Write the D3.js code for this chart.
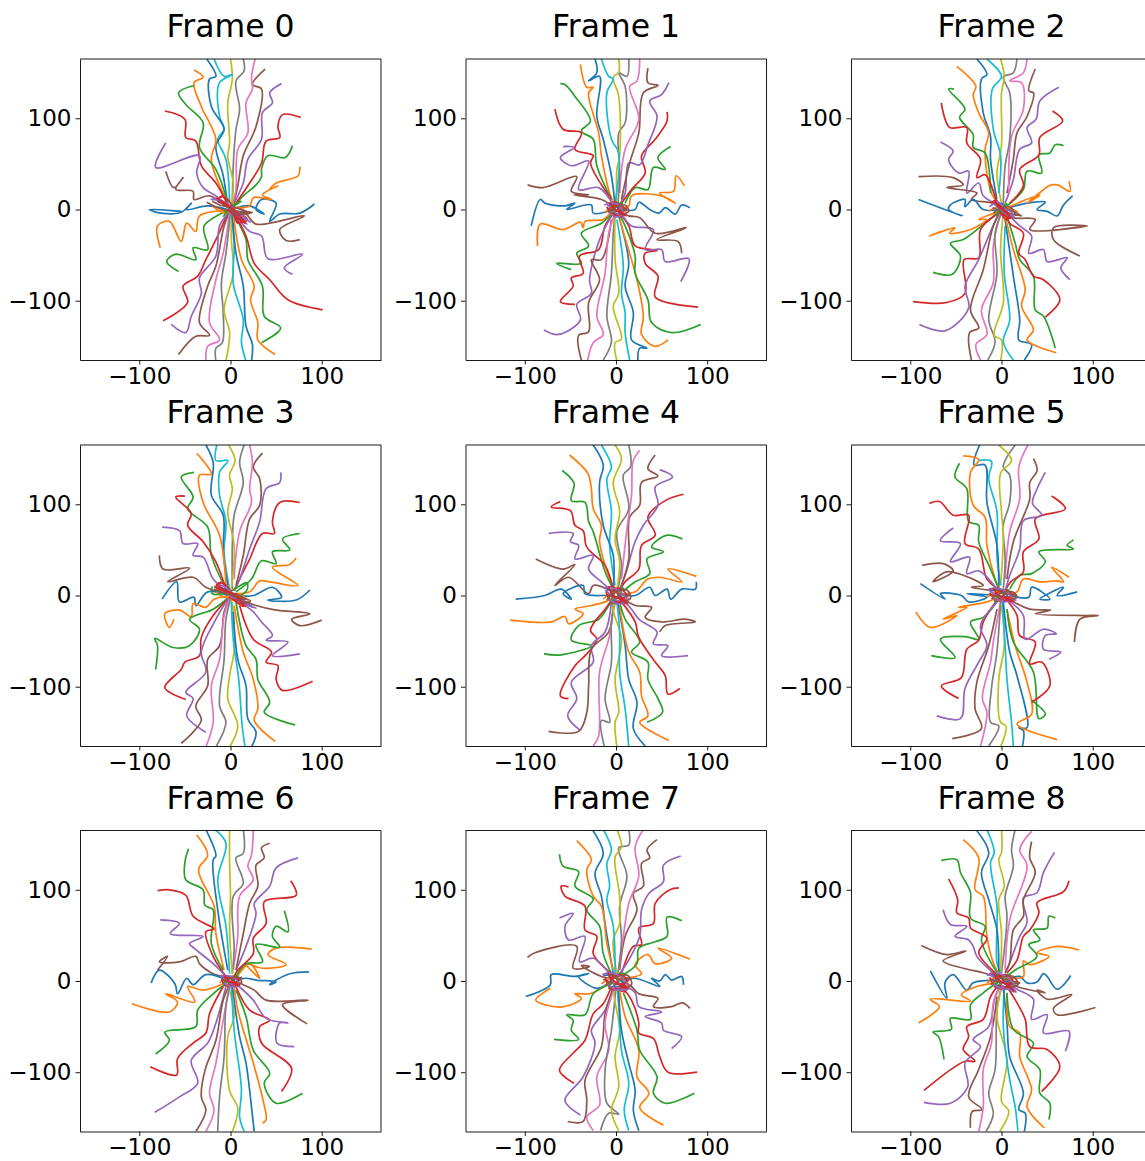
<!DOCTYPE html>
<html><head><meta charset="utf-8">
<script src="https://cdn.jsdelivr.net/npm/d3@7"></script>
<style>html,body{margin:0;padding:0;background:#fff;overflow:hidden}svg{display:block}</style>
</head><body><svg id="c" width="1145" height="1161"></svg>
<script>
const tab10=["#1f77b4","#ff7f0e","#2ca02c","#d62728","#9467bd","#8c564b","#e377c2","#7f7f7f","#bcbd22","#17becf"];
const titles=["Frame 0","Frame 1","Frame 2","Frame 3","Frame 4","Frame 5","Frame 6","Frame 7","Frame 8"];
const tickValues=[-100,0,100];
const limit=165;
const lineColors=[0,1,2,3,4,5,6,7,8,9,0,1,2,3,4,5,0,1,2,3,4,5,6,7,8,9,0,1,2,3,4,5];
const coreColors=[0,1,2,3,4,5,3,4,5,3];

const frame0=[
[92,6,76,-4,54,-5,43,-13,50,7,34,11,28,0,37,-5,21,4,4,1],
[76,47,74,37,50,29,43,22,52,26,35,16,45,11,25,13,21,4,6,2],
[68,70,60,57,41,59,34,44,34,36,28,27,14,15,4,4],
[77,101,57,104,52,91,54,79,39,75,34,51,21,29,6,7],
[56,138,43,128,46,117,35,106,34,77,19,55,14,29,4,7],
[38,154,24,137,34,132,28,91,14,59,8,26,3,4],
[27,165,23,145,24,132,17,117,19,84,8,66,6,22,2,4],
[14,165,15,152,6,141,10,110,6,88,3,48,2,4],
[0,165,2,143,-3,117,-1,73,-3,58,3,29,1,4],
[-18,165,-7,146,2,148,-12,139,-12,102,-7,88,-14,77,-5,55,-1,7],
[-26,165,-16,146,-23,143,-21,113,-7,88,-16,70,-8,37,-3,4],
[-40,153,-30,145,-40,139,-32,113,-16,77,-21,55,-5,11],
[-40,136,-57,128,-49,115,-30,95,-34,68,-16,44,-3,7],
[-72,108,-50,99,-49,79,-38,75,-32,48,-16,29,-3,5],
[-71,73,-82,46,-34,59,-37,40,-30,24,-16,15,-3,4],
[-71,42,-62,24,-52,35,-60,22,-41,20,-40,11,-23,15,-3,2],
[-54,-2,-89,0,-76,-4,-54,-3,-43,7,-48,0,-25,4,-3,0],
[-77,-42,-80,-18,-67,-13,-54,-35,-48,-15,-38,-24,-34,-7,-5,-1],
[-57,-68,-70,-57,-60,-49,-38,-55,-41,-42,-25,-44,-29,-18,-5,-2],
[-74,-122,-47,-102,-52,-84,-36,-73,-27,-55,-14,-29,-3,-4],
[-65,-126,-49,-135,-43,-117,-32,-92,-34,-75,-16,-51,-12,-18,-2,-4],
[-57,-159,-38,-139,-23,-138,-34,-124,-25,-84,-16,-62,-7,-18,-1,-3],
[-27,-166,-25,-150,-12,-143,-23,-124,-16,-77,-8,-48,-1,-4],
[-16,-166,-16,-152,-9,-146,-8,-113,-10,-81,-5,-48,0,-4],
[-5,-166,-1,-135,-7,-110,3,-70,1,-33,1,-4],
[17,-166,12,-146,14,-121,3,-81,4,-40,1,-4],
[23,-166,24,-148,17,-128,14,-84,6,-48,2,-4],
[49,-159,30,-143,30,-124,22,-99,26,-84,12,-55,3,-4],
[34,-146,55,-130,37,-117,35,-84,19,-55,17,-33,3,-4],
[101,-110,63,-99,43,-77,26,-59,17,-29,3,-3],
[68,-71,59,-64,79,-49,41,-54,34,-29,21,-24,4,-4],
[76,-33,61,-34,54,-22,81,-7,28,-16,17,-5,4,-1]];
const core0=[[-14,8,-4,6,10,-8,3,-3],[-20,4,-6,-4,8,2,20,-5],[-8,-8,2,4,12,9,-6,-2],[-12,14,-4,12,4,0,15,-14,18,-10,6,-4],[-20,14,-10,7,6,-4,18,-16,12,-12,-2,-2],[-26,8,-14,2,2,-2,20,-4,6,2,-8,4],[-9,15,-14,10,-2,3,12,-8,16,-15,9,-10,-3,0],[-22,11,-8,9,8,-3,22,-14,14,-9,0,1],[-20,9,-12,5,-4,3,10,-5,24,-3,11,-2],[-16,13,-8,8,2,1,13,-12,8,-15,4,-6]];

const frame1=[
[81,2,72,5,65,-5,54,2,47,-4,37,0,25,8,21,0,3,0],
[75,26,66,37,63,20,48,18,65,7,50,15,17,15,14,4,3,1],
[60,69,46,57,54,44,41,46,35,22,21,24,10,7],
[56,107,56,97,43,77,28,59,32,40,17,22,4,4],
[58,139,50,126,37,119,45,102,35,71,26,49,14,51,10,18,3,4],
[35,155,35,139,46,136,30,128,25,84,15,51,6,11],
[26,165,23,141,15,135,25,99,10,66,4,18],
[14,165,12,146,3,150,10,135,10,95,3,84,4,40,2,4],
[3,165,3,150,-3,145,3,124,4,59,1,44,1,4],
[-16,165,-8,146,-3,143,-10,128,-5,77,3,62,-1,7],
[-23,165,-21,150,-30,141,-18,146,-21,102,-14,77,-5,37,-1,4],
[-39,159,-32,134,-25,134,-30,128,-19,84,-16,59,-7,18,-1,4],
[-61,138,-56,137,-45,124,-28,97,-38,86,-25,77,-21,48,-5,11],
[-67,110,-58,88,-38,84,-45,66,-25,59,-28,51,-5,11],
[-58,69,-46,68,-61,57,-49,48,-30,53,-41,22,-19,24,-3,5],
[-97,27,-80,24,-43,36,-49,20,-30,16,-46,16,-16,11,-1,2],
[-93,-18,-83,11,-78,7,-56,4,-45,7,-54,0,-27,5,-25,-4,-3,0],
[-86,-40,-83,-16,-58,-22,-39,-14,-36,-20,-34,-13,-14,-11,-5,-2],
[-49,-66,-65,-59,-38,-59,-43,-48,-30,-40,-38,-26,-16,-15,-3,-3],
[-45,-104,-61,-101,-47,-84,-49,-75,-36,-70,-40,-51,-19,-44,-12,-18,-2,-3],
[-79,-132,-63,-137,-39,-121,-43,-104,-27,-92,-29,-77,-18,-33,-3,-4],
[-38,-165,-41,-138,-30,-134,-30,-102,-18,-77,-27,-55,-16,-55,-5,-11],
[-31,-165,-25,-146,-14,-137,-21,-117,-12,-70,-8,-26,-1,-4],
[-14,-165,-5,-145,-10,-117,-5,-70,-3,-26,-1,-4],
[1,-166,-1,-146,6,-142,-3,-106,3,-92,-1,-55,-1,-7],
[15,-165,10,-135,10,-113,6,-92,8,-62,1,-11],
[24,-166,26,-152,34,-152,17,-143,19,-113,10,-84,14,-59,3,-7],
[57,-143,43,-150,28,-137,30,-117,23,-77,17,-55,4,-11],
[93,-126,61,-135,39,-124,35,-99,21,-70,21,-51,10,-18,3,-4],
[90,-107,43,-96,46,-73,32,-59,32,-48,45,-45,21,-40,14,-18,3,-3],
[71,-79,80,-54,54,-57,50,-44,32,-44,41,-22,17,-18,6,-4],
[72,-48,68,-35,45,-33,77,-20,43,-26,26,-9,14,-7,4,-2]];
const core1=[[-8,4,2,7,8,-3,-2,-5],[-12,-4,-4,4,6,2,12,-4],[-6,-8,0,5,7,7,-2,-4],[-8,6,0,8,3,-2,6,-8,-3,-5],[-10,6,-3,0,6,-2,10,-6,0,-4,-5,3],[-4,8,2,2,12,1,4,-2,-8,1],[-10,3,-4,-5,4,-7,9,2,2,6,-6,2],[-13,5,-5,7,3,5,8,-5,-1,-8,-8,-2],[-9,-3,-1,2,10,5,14,-2,5,-6],[-7,8,-3,2,5,-4,11,-7,3,-1]];

const frame2=[
[78,15,68,5,61,-7,50,-2,39,0,48,8,28,7,9,2],
[74,31,75,20,61,27,52,26,44,20,28,7,42,16,6,2],
[68,70,59,71,53,62,41,60,44,40,28,42,24,22,6,4],
[56,108,67,97,42,79,41,60,20,44,24,26,9,7],
[63,134,42,119,38,99,28,90,33,73,20,66,13,33,4,7],
[37,154,30,130,35,128,28,102,17,84,13,55,6,18],
[28,165,24,150,9,141,22,139,24,110,11,80,8,18],
[17,165,13,150,2,145,9,128,9,77,4,48,2,7],
[-1,165,3,146,0,128,0,70,-5,40,0,7],
[-16,165,0,146,-10,132,-9,88,-1,59,-3,18],
[-27,165,-16,148,-22,143,-20,106,-12,80,-12,55,-5,11],
[-49,157,-28,135,-31,126,-25,106,-14,84,-18,66,-11,18,-1,4],
[-52,132,-58,132,-40,110,-46,101,-31,82,-31,68,-18,62,-12,18],
[-66,117,-57,90,-38,90,-38,73,-23,55,-27,35,-18,38,-5,7],
[-67,74,-53,64,-58,55,-47,40,-36,42,-38,18,-25,29,-20,15,-1,4],
[-91,36,-53,35,-42,27,-60,24,-27,18,-33,11,-9,7,-1,2],
[-91,11,-43,-7,-58,0,-56,5,-40,11,-40,3,-31,11,-20,0,-1,0],
[-66,-24,-79,-29,-51,-20,-57,-26,-34,-22,-16,-11,-25,-11,-2,-2],
[-75,-69,-54,-71,-45,-51,-56,-37,-42,-33,-18,-15,-3,-3],
[-97,-101,-60,-102,-40,-92,-41,-55,-25,-53,-23,-22,-5,-5],
[-90,-126,-62,-133,-36,-108,-40,-84,-25,-55,-14,-29,-3,-4],
[-33,-165,-35,-135,-25,-130,-34,-110,-20,-66,-9,-18,-1,-2],
[-23,-165,-28,-148,-16,-137,-22,-110,-9,-80,-9,-40,-1,-4],
[-15,-165,-7,-145,-14,-121,-5,-70,-7,-26,0,-4],
[-1,-166,0,-143,-8,-138,2,-102,-1,-44,2,-4],
[13,-165,2,-145,9,-121,3,-70,4,-18],
[25,-165,33,-148,19,-143,20,-121,13,-73,4,-11],
[60,-157,28,-143,35,-132,22,-106,26,-88,13,-44,4,-7],
[59,-152,46,-117,37,-110,35,-73,20,-55,15,-37,6,-7],
[48,-118,64,-99,46,-77,35,-73,26,-55,19,-48,24,-26,9,-15,4,-5],
[75,-77,65,-64,72,-53,50,-57,46,-44,30,-48,33,-29,20,-18,6,-4],
[86,-51,57,-33,57,-20,94,-18,31,-22,37,-11,13,-9,6,-4]];
const core2=[[-8,5,2,6,6,-3,-2,-4],[-14,-2,-4,3,6,2,18,-3],[-6,-7,0,4,6,6,-3,-3],[-10,8,-2,5,4,-2,9,-9,-2,-3],[-8,10,-3,2,5,-3,14,-8,4,-4,-6,4],[-6,5,4,2,22,-7,8,-4,-10,2],[-12,7,-6,10,0,2,8,-6,5,-11,-1,-3],[-13,3,-4,8,4,1,12,-4,6,-8],[-9,-4,-2,1,9,3,16,-7],[-7,9,-4,4,3,-1,10,-10,2,-6]];

const frame3=[
[87,6,72,-5,41,-5,56,-2,46,9,25,0,6,0],
[72,41,65,34,46,31,74,11,43,15,32,16,21,4,6,2],
[76,68,57,62,65,50,46,48,50,35,34,38,23,18,6,4],
[76,102,54,102,46,81,48,68,35,68,21,40,10,18,4,5],
[55,135,54,124,39,117,32,81,21,51,10,18,4,5],
[35,156,25,141,32,128,32,99,21,84,14,44,6,11],
[21,165,24,146,21,117,23,102,10,70,4,18],
[15,165,10,146,14,124,4,88,2,55,2,7],
[-2,165,5,148,-1,132,2,117,-3,92,4,55,1,7],
[-15,165,-16,148,-3,148,-12,135,-12,110,-5,81,-7,48,-1,7],
[-27,165,-19,146,-21,110,-8,88,-8,48,-3,11],
[-37,156,-21,133,-34,132,-30,102,-12,66,-5,11],
[-40,135,-54,130,-41,108,-47,95,-25,75,-21,44,-7,11],
[-50,109,-60,108,-43,90,-47,77,-30,59,-16,37,-5,7],
[-75,75,-56,71,-52,57,-36,57,-41,44,-30,42,-19,18,-3,4],
[-78,44,-74,29,-45,30,-69,15,-41,20,-27,9,-5,2],
[-75,-4,-59,15,-56,-7,-40,-2,-38,-11,-25,4,-3,0],
[-62,-26,-67,-35,-72,-20,-56,-16,-43,-23,-41,-9,-27,-13,-18,-4,-3,-1],
[-82,-81,-80,-55,-83,-47,-63,-57,-45,-55,-34,-37,-45,-26,-19,-15,-3,-3],
[-49,-114,-72,-101,-54,-81,-50,-73,-34,-66,-32,-46,-19,-22,-3,-4],
[-27,-150,-48,-132,-41,-113,-49,-106,-27,-84,-32,-62,-16,-26,-3,-4],
[-54,-162,-32,-137,-38,-121,-25,-99,-25,-70,-12,-55,-7,-18,-1,-3],
[-27,-166,-19,-139,-21,-99,-12,-70,-7,-22,-1,-4],
[-16,-166,-5,-139,-12,-121,-7,-70,-5,-26,0,-4],
[-1,-166,8,-143,-3,-113,-1,-88,4,-60,3,-18,1,-4],
[16,-166,13,-145,9,-92,3,-48,1,-7],
[23,-166,28,-150,19,-135,17,-99,8,-70,3,-18],
[49,-160,26,-137,30,-124,25,-92,14,-62,4,-11],
[71,-142,37,-128,43,-117,30,-92,28,-70,17,-55,6,-7],
[90,-94,57,-104,50,-92,52,-77,39,-73,45,-62,25,-48,10,-11],
[76,-64,46,-66,63,-51,39,-49,46,-44,34,-29,25,-18,6,-4],
[100,-27,76,-33,67,-26,87,-20,50,-16,28,-11,10,-4]];
const core3=[[-14,8,-4,6,10,-8,3,-3],[-16,4,-6,-2,8,2,20,-6],[-20,10,-20,2,-4,3,6,8,18,14,18,6,6,-3],[-14,14,-6,12,4,0,16,-12,10,-8,-2,-2],[-14,10,-5,4,6,-4,28,-14,12,-6,-2,0],[-18,10,-8,5,4,-1,16,-4,5,2,-8,3],[-16,12,-10,8,2,2,12,-5,16,-11,6,-3],[-12,12,-4,8,6,-2,18,-9,24,-13,8,-6],[-18,7,-8,3,4,-1,14,-8,22,-6,4,0],[-10,15,-16,9,0,3,9,-3,14,-12,2,-4]];

const frame4=[
[88,15,87,7,72,7,60,-4,56,7,43,0,37,9,21,0,6,1],
[88,21,57,29,72,15,48,20,35,18,21,4,6,2],
[73,62,55,66,39,53,52,48,34,40,37,24,21,15,8,5],
[74,111,54,104,35,86,43,66,28,55,25,29,10,15,4,5],
[48,138,62,130,43,119,46,99,30,77,21,59,10,22,3,5],
[43,154,35,139,46,131,28,124,26,99,15,86,14,40,6,11],
[26,159,19,148,17,110,12,73,6,18],
[14,165,16,141,8,132,14,95,1,70,6,33,2,7],
[-1,165,6,150,-3,124,4,92,-1,62,4,37,1,7],
[-16,165,-5,141,-10,128,-5,92,-7,55,-1,11],
[-25,165,-14,143,-18,124,-14,77,-3,44,-3,7],
[-51,154,-31,134,-27,117,-25,95,-16,77,-18,59,-7,18,-1,4],
[-59,137,-46,123,-49,104,-34,102,-30,81,-25,70,-12,26,-3,7],
[-61,103,-71,97,-50,93,-45,77,-36,71,-32,53,-12,33,-3,7],
[-74,68,-47,68,-50,59,-41,55,-45,40,-25,44,-30,29,-16,15,-3,4],
[-88,40,-58,29,-45,34,-67,11,-52,20,-30,2,-25,11,-5,5],
[-110,-4,-78,0,-60,7,-49,-4,-58,2,-36,11,-34,2,-12,0,-3,0],
[-116,-27,-71,-29,-56,-23,-52,-31,-36,-20,-45,-15,-27,-11,-12,-7,-3,-2],
[-79,-64,-60,-65,-27,-55,-49,-49,-41,-33,-19,-26,-8,-11,-3,-3],
[-52,-113,-61,-110,-45,-77,-32,-64,-21,-48,-28,-38,-12,-15,-3,-3],
[-39,-148,-53,-132,-43,-113,-49,-95,-25,-73,-27,-55,-12,-40,-5,-7],
[-74,-149,-41,-149,-32,-128,-30,-99,-27,-59,-8,-40,-3,-7],
[-25,-165,-19,-154,-18,-84,-7,-44,-3,-11],
[-13,-165,-16,-137,-7,-139,-12,-113,-5,-73,-5,-29,0,-4],
[1,-166,-1,-139,3,-128,-1,-92,6,-48,-3,-15,0,-4],
[14,-166,10,-124,4,-84,4,-40,1,-7],
[32,-165,19,-146,23,-117,14,-92,10,-55,2,-7],
[58,-159,26,-139,35,-132,28,-110,26,-84,14,-62,4,-11],
[34,-139,51,-128,46,-113,35,-92,35,-73,17,-62,26,-51,10,-26,4,-7],
[70,-102,57,-108,54,-88,43,-73,25,-46,21,-29,6,-7],
[79,-66,50,-66,57,-55,41,-53,45,-40,25,-26,17,-15,6,-4],
[48,-40,54,-33,87,-29,76,-26,50,-29,32,-24,39,-13,21,-11,6,-2]];
const core4=[[-10,6,-2,5,8,-5,-3,-6],[-14,-4,-4,3,8,1,14,-4],[-6,-10,0,5,8,8,-3,-6],[-10,8,-2,9,4,-3,9,-9,-2,-6],[-12,6,-4,0,6,-3,12,-7,0,-5,-6,3],[-5,9,3,2,14,1,5,-3,-10,1],[-11,4,-5,-7,3,-8,11,1,3,8,-6,3],[-14,8,-6,9,5,4,12,-6,1,-9,-9,-3],[-10,-5,-2,3,12,6,16,-3,7,-7],[-8,10,-4,1,6,-5,13,-9,4,-1]];

const frame5=[
[83,4,61,0,68,9,42,-4,53,-4,33,9,30,-2,9,0],
[74,20,55,31,68,15,61,16,42,15,24,18,17,4,6,2],
[79,61,72,55,79,51,41,48,48,37,33,24,20,22,9,7],
[55,109,70,95,37,84,41,62,24,48,24,26,10,15,4,5],
[48,135,39,117,34,101,44,88,24,82,20,51,9,22,4,5],
[35,150,39,137,31,124,31,106,13,59,6,18],
[29,165,19,141,20,106,9,70,4,18],
[15,165,2,141,9,132,9,102,2,77,4,40,2,7],
[-3,165,11,148,-1,134,0,92,2,66,-1,11],
[-25,148,-11,147,-14,128,-5,92,-5,44,-1,11],
[-24,165,-30,143,-18,143,-16,102,-5,55,-3,7],
[-42,153,-25,149,-34,135,-31,99,-18,86,-16,55,-7,18,-1,4],
[-46,145,-51,130,-38,117,-36,81,-25,77,-25,59,-12,29,-3,7],
[-79,101,-68,103,-53,88,-36,88,-40,57,-25,51,-16,18,-3,7],
[-53,74,-67,60,-45,57,-56,37,-35,42,-38,24,-25,27,-5,7],
[-87,33,-64,35,-53,27,-75,15,-60,26,-20,11,-33,9,-5,5],
[-89,13,-62,-4,-67,2,-44,0,-36,-7,-16,-2,-38,2,-3,0],
[-94,-18,-78,-35,-49,-22,-64,-26,-38,-13,-47,-13,-16,-7,-3,-2],
[-77,-66,-51,-68,-67,-48,-40,-45,-25,-48,-34,-29,-20,-24,-8,-11,-3,-4],
[-47,-113,-66,-99,-44,-90,-38,-59,-25,-49,-20,-29,-5,-5],
[-71,-132,-45,-135,-40,-102,-25,-73,-16,-55,-23,-33,-5,-7],
[-54,-157,-22,-146,-29,-124,-27,-95,-14,-55,-5,-15],
[-23,-165,-16,-128,-21,-113,-12,-73,-9,-51,-1,-7],
[-14,-165,-3,-143,-12,-139,-11,-102,-5,-62,-1,-7],
[-1,-166,5,-143,-1,-139,-3,-92,3,-55,0,-11],
[13,-165,11,-139,6,-92,4,-55,1,-7],
[23,-165,24,-148,19,-145,28,-145,17,-88,9,-62,2,-7],
[61,-158,17,-141,33,-130,28,-95,15,-55,6,-15],
[33,-115,48,-130,41,-135,35,-84,13,-51,6,-15],
[33,-117,53,-99,44,-73,31,-75,37,-51,20,-44,17,-22,6,-5],
[52,-70,65,-62,46,-59,48,-44,60,-42,46,-37,26,-48,24,-22,6,-4],
[80,-51,86,-26,106,-22,92,-22,37,-20,54,-16,31,-15,17,-9,6,-2]];
const core5=[[-12,5,-2,6,8,-3,-4,-3],[-16,-2,-4,4,8,2,14,-3],[-8,-7,0,4,8,6,-3,-3],[-14,7,-2,7,4,-2,8,-6,-4,-3],[-13,5,-4,0,6,-2,16,-5,0,-3,-7,3],[-6,7,3,2,16,1,5,-2,-12,1],[-13,3,-6,-5,3,-6,11,1,4,6,-7,2],[-15,6,-7,8,4,5,12,-4,2,-7,-10,-2],[-11,-4,-2,2,12,4,17,-2,7,-5],[-9,8,-4,1,6,-4,14,-7,4,-1]];

const frame6=[
[86,10,65,8,50,1,43,-4,50,-1,28,1,17,3,6,1],
[89,35,50,36,41,29,61,18,35,14,17,19,32,3,21,19,6,3],
[59,77,63,54,50,60,46,49,54,37,28,40,35,21,17,19,6,5],
[66,110,72,94,37,87,39,63,25,47,25,30,8,12,4,5],
[74,135,50,124,43,104,26,85,28,74,17,38,6,12],
[43,151,34,146,37,135,28,127,30,104,21,85,14,52,6,12],
[25,166,23,138,19,126,25,111,10,93,8,49,3,12],
[14,166,14,140,6,135,14,107,3,93,4,34,2,8],
[-1,166,-1,129,0,93,-1,56,2,8],
[-17,166,-5,151,-14,111,-5,60,-1,8],
[-27,166,-16,137,-19,133,-14,78,-3,12],
[-37,160,-25,138,-35,122,-18,82,-16,52,-7,12],
[-46,145,-50,130,-49,111,-30,100,-28,83,-19,78,-21,41,-8,12],
[-80,99,-67,100,-49,94,-41,71,-18,57,-27,54,-19,27,-5,5],
[-77,67,-56,63,-66,52,-30,49,-45,41,-40,36,-19,19,-5,5],
[-80,12,-69,27,-78,21,-56,21,-38,27,-34,19,-19,8,-3,4],
[-87,-2,-78,12,-61,-3,-58,-14,-48,3,-41,-4,-27,7,-3,1],
[-108,-25,-67,-34,-58,-23,-71,-14,-39,-23,-47,-6,-30,-10,-8,-3],
[-82,-80,-67,-65,-72,-56,-38,-50,-36,-32,-19,-14,-5,-3],
[-88,-94,-59,-103,-58,-85,-41,-68,-27,-57,-23,-36,-8,-6],
[-83,-144,-56,-127,-36,-112,-43,-87,-25,-68,-16,-46,-5,-6],
[-38,-165,-27,-142,-32,-127,-28,-98,-16,-65,-8,-21,-1,-4],
[-27,-165,-18,-142,-23,-123,-16,-90,-8,-43,-1,-4],
[-14,-165,-12,-127,-7,-83,-5,-28,0,-4],
[2,-165,8,-140,-1,-120,-3,-61,4,-39,-1,-10],
[15,-165,10,-149,12,-120,4,-54,1,-6],
[26,-165,24,-147,17,-90,10,-61,2,-6],
[35,-156,39,-152,36,-132,25,-90,8,-32,4,-6],
[79,-123,50,-134,37,-112,43,-101,25,-76,17,-39,6,-10],
[56,-121,67,-96,34,-68,32,-50,43,-43,21,-32,6,-6],
[70,-72,51,-68,54,-46,63,-46,39,-41,25,-21,6,-3],
[84,-47,57,-26,85,-21,39,-21,26,-10,14,-4,6,0]];
const core6=[[-10,4,-2,5,6,-3,-3,-3],[-12,-2,-4,3,6,2,10,-3],[-7,-6,0,4,8,5,-3,-3],[-10,6,-2,5,4,-2,7,-6,-3,-3],[-9,5,-3,0,5,-2,9,-6,0,-3,-5,2],[-5,6,3,2,12,4,5,-2,-10,2],[-10,2,-5,-5,3,-5,9,1,3,5,-6,2],[-11,5,-5,6,3,4,10,-4,1,-6,-8,-2],[-9,-3,-2,2,9,4,12,-2,5,-5],[-7,6,-3,1,5,-3,10,-5,3,0]];

const frame7=[
[74,-4,72,5,61,1,54,7,48,0,39,3,48,-6,21,3,6,1],
[81,24,46,36,61,25,43,19,35,29,21,18,28,8,6,3],
[72,66,56,70,56,49,43,43,25,36,23,19,10,8],
[69,102,59,100,43,85,41,63,25,58,28,40,19,38,6,8],
[71,137,52,127,52,109,36,96,28,78,26,49,14,23,4,8],
[45,155,34,144,37,135,28,129,30,104,19,96,23,78,10,49,4,12],
[30,166,21,147,25,115,14,85,8,49,3,12],
[14,166,14,149,3,146,12,115,4,82,6,45,2,8],
[1,166,6,147,-1,136,4,93,4,63,-3,45,1,8],
[-14,166,-5,144,-10,129,-7,104,-10,89,-3,60,-1,8],
[-26,166,-14,140,-23,118,-16,93,-12,63,-3,8],
[-43,154,-27,133,-32,122,-25,93,-16,82,-10,41,-3,12],
[-62,139,-58,126,-41,120,-45,104,-25,90,-32,78,-18,60,-14,30,-5,8],
[-52,103,-60,104,-56,93,-34,82,-34,56,-21,49,-25,30,-5,8],
[-62,69,-47,74,-56,60,-52,45,-34,49,-40,21,-25,25,-5,5],
[-97,26,-89,31,-43,38,-47,14,-29,16,-38,17,-16,5,-3,3],
[-99,-17,-72,-4,-71,7,-45,5,-30,8,-41,5,-21,-8,-5,0],
[-72,-8,-88,-21,-78,-26,-56,-28,-38,-19,-45,-14,-29,-14,-5,-1],
[-68,-64,-41,-64,-49,-54,-47,-43,-54,-37,-34,-37,-25,-14,-5,-3],
[-46,-112,-62,-98,-47,-79,-34,-65,-25,-36,-14,-25,-5,-6],
[-39,-147,-56,-131,-36,-105,-23,-68,-27,-54,-12,-32,-3,-6],
[-53,-154,-36,-154,-32,-131,-34,-109,-16,-72,-12,-36,-3,-8],
[-25,-164,-32,-149,-18,-136,-21,-105,-8,-76,-12,-46,-1,-6],
[-17,-164,-8,-145,3,-146,-10,-134,-12,-98,-5,-54,0,-6],
[3,-164,-5,-142,3,-116,-1,-83,4,-54,-2,-13,1,-6],
[14,-164,9,-142,14,-112,6,-76,3,-28,1,-6],
[25,-164,19,-142,21,-120,14,-90,6,-54,3,-10],
[52,-158,26,-139,36,-123,23,-105,25,-76,10,-39,4,-10],
[86,-123,54,-134,41,-123,45,-105,26,-76,23,-54,8,-13],
[89,-100,57,-100,48,-83,41,-63,25,-57,25,-46,17,-21,6,-6],
[61,-74,72,-61,52,-54,50,-46,32,-39,50,-34,25,-28,21,-13,6,-3],
[81,-30,73,-24,61,-28,41,-28,46,-19,25,-14,17,-6,6,0]];
const core7=[[-14,6,-3,6,9,-5,-4,-6],[-16,-3,-5,3,9,1,15,-6],[-8,-9,0,6,10,8,-3,-6],[-10,8,-3,7,4,-4,10,-12,-2,-7],[-10,9,-4,1,6,-4,12,-10,0,-6,-7,3],[-6,8,3,2,15,3,6,-4,-14,2],[-12,4,-6,-8,3,-9,12,1,4,7,-7,3],[-15,7,-7,9,5,5,13,-6,2,-10,-10,-3],[-11,-5,-2,3,13,6,17,-4,7,-8],[-9,9,-4,1,7,-5,14,-9,5,-2]];

const frame8=[
[76,6,61,-9,50,5,46,8,39,-1,28,-2,20,5,6,1],
[85,34,61,38,39,31,52,27,31,18,24,22,24,5,6,3],
[59,69,52,71,50,58,35,56,42,45,30,40,39,27,15,12,6,5],
[74,110,68,98,39,86,41,75,31,56,24,49,17,23,6,9],
[58,141,46,119,39,97,24,91,28,64,20,49,9,20,4,9],
[33,153,31,135,37,119,24,89,24,71,13,56,9,20,4,9],
[33,164,20,144,28,126,9,67,4,12],
[15,166,11,144,13,126,4,93,6,71,0,9],
[0,166,0,141,-3,133,3,104,-3,89,0,53,-1,9],
[-16,166,-8,141,-12,130,-5,82,-5,20,-1,9],
[-28,166,-14,141,-22,119,-14,89,-5,56,-3,9],
[-42,155,-25,135,-29,100,-20,93,-16,49,-9,20,-1,5],
[-66,132,-49,133,-45,119,-34,97,-34,69,-18,60,-22,45,-5,9],
[-58,112,-48,89,-49,75,-36,69,-34,58,-16,47,-25,31,-5,7],
[-64,78,-56,62,-38,60,-51,49,-36,45,-31,38,-27,27,-5,5],
[-88,39,-60,29,-39,33,-64,22,-42,14,-20,9,-3,3],
[-78,11,-60,-19,-62,-2,-53,7,-38,-10,-31,-2,-5,1],
[-91,-46,-68,-28,-78,-20,-34,-22,-44,-15,-27,-6,-5,-2],
[-63,-86,-69,-61,-75,-56,-55,-53,-56,-41,-34,-42,-34,-26,-20,-13,-5,-2],
[-85,-120,-40,-88,-29,-88,-42,-75,-36,-61,-38,-50,-20,-42,-12,-17,-3,-4],
[-85,-133,-56,-134,-37,-116,-40,-90,-23,-72,-31,-64,-14,-50,-7,-17,-1,-4],
[-34,-161,-32,-143,-21,-141,-36,-127,-25,-97,-12,-61,-5,-17],
[-25,-165,-20,-138,-20,-97,-11,-68,-9,-24,-1,-6],
[-17,-165,-9,-146,-14,-123,-7,-97,-5,-31,0,-6],
[-2,-165,8,-143,0,-132,6,-86,-5,-39,0,-8],
[18,-165,15,-138,9,-108,2,-50,3,-9],
[25,-165,26,-145,19,-141,24,-123,9,-83,6,-46,2,-9],
[47,-161,28,-138,33,-119,20,-83,20,-57,9,-50,6,-13],
[52,-152,53,-134,42,-123,42,-97,28,-83,35,-68,13,-53,6,-13],
[44,-121,64,-94,50,-75,31,-72,26,-42,17,-24,6,-6],
[70,-77,74,-55,46,-57,50,-37,33,-42,35,-20,17,-9,6,-2],
[103,-29,61,-37,57,-30,77,-15,50,-20,39,-10,48,-13,17,-6,6,0]];
const core8=[[-12,7,-3,5,9,-6,-3,-5],[-16,-2,-5,4,9,2,15,-4],[-7,-8,0,5,8,7,-3,-5],[-12,9,-3,7,4,-3,12,-10,-2,-5],[-14,8,-4,1,6,-3,16,-12,2,-6,-6,3],[-6,8,3,2,20,-2,6,-3,-12,2],[-13,4,-6,-7,3,-8,12,1,4,7,-7,3],[-16,6,-7,9,5,5,14,-6,2,-9,-10,-3],[-12,-4,-2,3,13,5,18,-4,7,-7],[-9,10,-4,2,7,-5,14,-11,5,-2]];

const frames=[frame0,frame1,frame2,frame3,frame4,frame5,frame6,frame7,frame8];
const cores=[core0,core1,core2,core3,core4,core5,core6,core7,core8];

const svg=d3.select("#c");
const size=301, colX=[80,465.5,851], rowY=[59,445,830.5];
const x=d3.scaleLinear().domain([-limit,limit]).range([0,size]);
const y=d3.scaleLinear().domain([-limit,limit]).range([size,0]);
const line=d3.line().x(d=>x(d[0])).y(d=>y(d[1])).curve(d3.curveCatmullRom.alpha(0.5));
const pairs=a=>d3.range(0,a.length,2).map(i=>[a[i],a[i+1]]);
svg.append("defs").append("clipPath").attr("id","plot").append("rect").attr("width",size).attr("height",size);

titles.forEach((t,i)=>{
  const g=svg.append("g").attr("transform",`translate(${colX[i%3]},${rowY[Math.floor(i/3)]})`);
  const plot=g.append("g").attr("clip-path","url(#plot)");
  const draw=(data,colors)=>{
    const layer=plot.append("g");
    layer.selectAll("path").data(data).enter().append("path")
      .attr("d",d=>line(pairs(d))).attr("fill","none")
      .attr("stroke",(d,j)=>tab10[colors[j]]).attr("stroke-width",1.7);
  };
  draw(frames[i],lineColors);
  draw(cores[i],coreColors);
  const xa=g.append("g").attr("transform",`translate(0,${size})`).call(d3.axisBottom(x).tickValues(tickValues).tickSize(4.5).tickSizeOuter(0).tickPadding(3));
  const ya=g.append("g").call(d3.axisLeft(y).tickValues(tickValues).tickSize(4.5).tickSizeOuter(0).tickPadding(4));
  [xa,ya].forEach(a=>{
    a.selectAll("text").attr("font-family","'DejaVu Sans'").attr("font-size",23).attr("fill","#000");
    a.selectAll("line").attr("stroke","#000").attr("stroke-width",0.9);
    a.select(".domain").attr("stroke","#000").attr("stroke-width",0.9);
  });
  g.append("line").attr("x1",size).attr("x2",size).attr("y1",0).attr("y2",size).attr("stroke","#000").attr("stroke-width",0.9);
  g.append("line").attr("x1",0).attr("x2",size).attr("y1",0).attr("y2",0).attr("stroke","#000").attr("stroke-width",0.9);
  g.append("text").text(t).attr("x",size/2).attr("y",-22).attr("text-anchor","middle")
    .attr("font-family","'DejaVu Sans'").attr("font-size",31.5).attr("fill","#000");
});
</script></body></html>
